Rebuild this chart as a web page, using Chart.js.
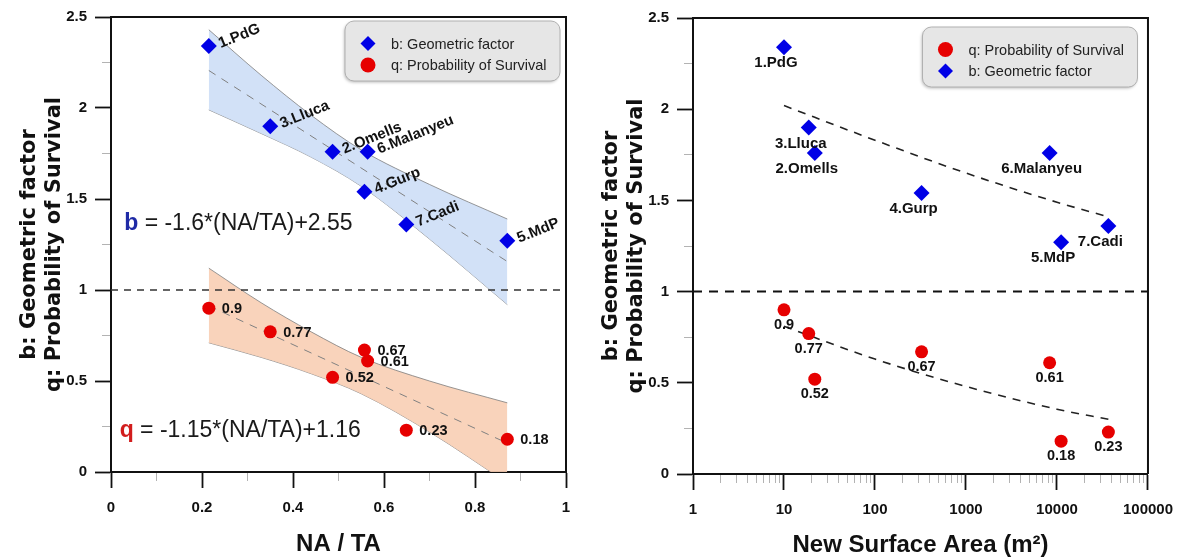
<!DOCTYPE html>
<html>
<head>
<meta charset="utf-8">
<title>Geometric factor and probability of survival</title>
<script src="https://cdn.jsdelivr.net/npm/chart.js@4.4.1/dist/chart.umd.min.js"></script>
<style>
  html, body { margin: 0; padding: 0; background: #fff; }
  #wrap { position: relative; width: 1184px; height: 560px; }
  canvas { position: absolute; top: 0; }
  #ratio-chart { left: 0; }
  #area-chart { left: 592px; }
</style>
</head>
<body>
<div id="wrap">
  <canvas id="ratio-chart" width="592" height="560"></canvas>
  <canvas id="area-chart" width="592" height="560"></canvas>
</div>
<script>
// sites, in numbering order
const sites = ['1.PdG', '2.Omells', '3.Lluca', '4.Gurp', '5.MdP', '6.Malanyeu', '7.Cadi'];
const naTa = [0.215, 0.487, 0.35, 0.557, 0.871, 0.564, 0.649];
const newArea = [10, 21.8, 18.7, 325, 11100, 8300, 36700];
const bFactor = [2.34, 1.76, 1.90, 1.54, 1.27, 1.76, 1.36];
const qSurvival = [0.90, 0.52, 0.77, 0.67, 0.18, 0.61, 0.23];

// linear fits against NA/TA
const bFit = { slope: -1.6, intercept: 2.55 };
const qFit = { slope: -1.15, intercept: 1.16 };
const fitRange = [0.215, 0.871];

// confidence bands round the fits
const bandX = [0.215, 0.33, 0.44, 0.55, 0.70, 0.871];
const bBandUpper = [2.43, 2.18, 1.96, 1.77, 1.58, 1.39];
const bBandLower = [1.99, 1.86, 1.73, 1.57, 1.28, 0.92];
const qBandUpper = [1.12, 0.93, 0.77, 0.63, 0.50, 0.38];
const qBandLower = [0.71, 0.63, 0.54, 0.43, 0.22, -0.06];

// trend curves against new surface area
const trendArea = [10, 100, 1000, 10000, 36700];
const bTrend = [2.02, 1.83, 1.65, 1.49, 1.41];
const qTrend = [0.81, 0.63, 0.48, 0.355, 0.30];

// labelled ticks
const yMajor = [0, 0.5, 1, 1.5, 2, 2.5];
const ratioMajor = [0, 0.2, 0.4, 0.6, 0.8, 1];
const areaMajor = [1, 10, 100, 1000, 10000, 100000];

const BLUE = '#0000e6';
const RED = '#e60000';
const SANS = '"Liberation Sans", Arial, sans-serif';

Chart.defaults.font.family = SANS;
Chart.defaults.color = '#111';

const xy = (xs, ys) => xs.map((x, i) => ({ x: x, y: ys[i] }));

// major ticks plus one minor tick between each pair
function linearTicks(major) {
  const out = [];
  major.forEach((v, i) => {
    out.push({ value: v, major: true });
    if (i < major.length - 1) out.push({ value: (v + major[i + 1]) / 2, major: false });
  });
  return out;
}

// decades plus 2..9 minor ticks
function logTicks(major) {
  const out = [];
  major.forEach((v, i) => {
    out.push({ value: v, major: true });
    if (i < major.length - 1) {
      for (let m = 2; m <= 9; m++) out.push({ value: v * m, major: false });
    }
  });
  return out;
}

// minor ticks are short: dash pattern keeps only the part next to the axis.
// bottom axis ticks are stroked from the axis out, left axis ticks from the outer end in.
const tickGrid = (minorDash) => ({
  drawOnChartArea: false,
  tickLength: 16,
  tickColor: c => (c.tick && c.tick.major ? '#111' : '#b3b3b3'),
  tickWidth: c => (c.tick && c.tick.major ? 1.8 : 1),
  tickBorderDash: c => (c.tick && c.tick.major ? [] : minorDash)
});
const xGrid = tickGrid([8, 60]);
const yGrid = tickGrid([0, 7, 9, 60]);

const tickFont = { family: SANS, weight: 'bold', size: 15 };
const majorLabel = (v, i, ticks) => (ticks[i].major ? String(v) : '');

const yTitle = (padTop) => ({
  display: true,
  text: ['b: Geometric factor', 'q: Probability of Survival'],
  font: { family: '"DejaVu Sans", sans-serif', weight: 'bold', size: 21, lineHeight: '25px' },
  padding: { top: padTop, bottom: 0 },
  color: '#111'
});

function diamondOrDot(ctx, style, x, y, r, color) {
  ctx.fillStyle = color;
  ctx.beginPath();
  if (style === 'rectRot') {
    ctx.moveTo(x, y - r);
    ctx.lineTo(x + r, y);
    ctx.lineTo(x, y + r);
    ctx.lineTo(x - r, y);
    ctx.closePath();
  } else {
    ctx.arc(x, y, r, 0, Math.PI * 2);
  }
  ctx.fill();
}

// top and right edges of the plot box
const frame = {
  id: 'frame',
  afterDraw(chart) {
    const { ctx, chartArea: a } = chart;
    ctx.save();
    ctx.strokeStyle = '#111';
    ctx.lineWidth = 2;
    ctx.beginPath();
    ctx.moveTo(a.left, a.top);
    ctx.lineTo(a.right, a.top);
    ctx.lineTo(a.right, a.bottom);
    ctx.stroke();
    ctx.restore();
  }
};

// site names / values next to the markers
const pointText = {
  id: 'pointText',
  afterDatasetsDraw(chart) {
    const { ctx } = chart;
    chart.data.datasets.forEach((ds, i) => {
      const lab = ds.pointLabels;
      if (!lab) return;
      const pts = chart.getDatasetMeta(i).data;
      ctx.save();
      ctx.fillStyle = '#111';
      ctx.font = 'bold ' + lab.size + 'px ' + SANS;
      ctx.textAlign = lab.align;
      ctx.textBaseline = lab.baseline;
      pts.forEach((p, j) => {
        ctx.save();
        ctx.translate(p.x + lab.dx, p.y + lab.dy);
        ctx.rotate((lab.angle || 0) * Math.PI / 180);
        ctx.fillText(lab.texts[j], 0, 0);
        ctx.restore();
      });
      ctx.restore();
    });
  }
};

// grey rounded legend box inside the plot
const insetLegend = {
  id: 'insetLegend',
  afterDatasetsDraw(chart, args, opts) {
    if (!opts.items) return;
    const { ctx, chartArea: a } = chart;
    const w = 215, h = 60;
    const x = a.right - opts.right - w;
    const y = a.top + opts.top;
    ctx.save();
    ctx.shadowColor = 'rgba(0,0,0,0.25)';
    ctx.shadowBlur = 3;
    ctx.shadowOffsetX = -1;
    ctx.shadowOffsetY = 1.5;
    ctx.beginPath();
    ctx.roundRect(x, y, w, h, 9);
    ctx.fillStyle = '#e6e6e6';
    ctx.fill();
    ctx.shadowColor = 'transparent';
    ctx.strokeStyle = '#b0b0b0';
    ctx.lineWidth = 1;
    ctx.stroke();
    ctx.font = '14.5px ' + SANS;
    ctx.textBaseline = 'middle';
    opts.items.forEach((di, k) => {
      const ds = chart.data.datasets[di];
      const cy = y + 22.5 + k * 21.5;
      diamondOrDot(ctx, ds.pointStyle, x + 23, cy, 7.5, ds.pointBackgroundColor);
      ctx.fillStyle = '#222';
      ctx.fillText(ds.label, x + 46, cy + 1);
    });
    ctx.restore();
  }
};

// fitted equations written on the plot
const fitNotes = {
  id: 'fitNotes',
  afterDatasetsDraw(chart, args, opts) {
    if (!opts.notes) return;
    const { ctx, scales } = chart;
    ctx.save();
    ctx.textBaseline = 'alphabetic';
    opts.notes.forEach(n => {
      const px = scales.x.getPixelForValue(n.atX);
      const py = scales.y.getPixelForValue(n.atY);
      ctx.font = 'bold 23px ' + SANS;
      ctx.fillStyle = n.color;
      ctx.fillText(n.key, px, py);
      const kw = ctx.measureText(n.key).width;
      ctx.font = '23px ' + SANS;
      ctx.fillStyle = '#1a1a1a';
      ctx.fillText(' = ' + n.slope + '*(NA/TA)+' + n.intercept, px + kw, py);
    });
    ctx.restore();
  }
};

const fitLine = f => fitRange.map(x => ({ x: x, y: f.slope * x + f.intercept }));

const bandEdge = (ys, fill, color) => ({
  data: xy(bandX, ys),
  borderColor: '#7d7d7d',
  borderWidth: 0.8,
  pointRadius: 0,
  cubicInterpolationMode: 'monotone',
  fill: fill,
  backgroundColor: color
});

// left: b and q against NA/TA
new Chart(document.getElementById('ratio-chart'), {
  type: 'line',
  data: {
    datasets: [
      {
        label: 'b: Geometric factor',
        data: xy(naTa, bFactor),
        showLine: false,
        pointStyle: 'rectRot',
        pointRadius: 8,
        pointBackgroundColor: BLUE,
        pointBorderWidth: 0,
        pointLabels: { texts: sites, dx: 12, dy: 2, angle: -22, align: 'left', baseline: 'alphabetic', size: 15 }
      },
      {
        label: 'q: Probability of Survival',
        data: xy(naTa, qSurvival),
        showLine: false,
        pointStyle: 'circle',
        pointRadius: 6.5,
        pointBackgroundColor: RED,
        pointBorderWidth: 0,
        pointLabels: { texts: qSurvival.map(String), dx: 13, dy: 1, align: 'left', baseline: 'middle', size: 14.5 }
      },
      { data: fitLine(bFit), borderColor: '#808080', borderWidth: 1, borderDash: [8, 7], pointRadius: 0 },
      { data: fitLine(qFit), borderColor: '#808080', borderWidth: 1, borderDash: [8, 7], pointRadius: 0 },
      { data: [{ x: 0, y: 1 }, { x: 1, y: 1 }], borderColor: '#333', borderWidth: 1.3, borderDash: [7, 6], pointRadius: 0 },
      bandEdge(bBandUpper, '+1', 'rgba(205, 222, 246, 0.9)'),
      bandEdge(bBandLower, false),
      bandEdge(qBandUpper, '+1', 'rgba(248, 206, 180, 0.9)'),
      bandEdge(qBandLower, false)
    ]
  },
  options: {
    responsive: false,
    animation: false,
    events: [],
    layout: { padding: { top: 16, right: 26, bottom: 0, left: 0 } },
    scales: {
      x: {
        type: 'linear',
        min: 0,
        max: 1,
        afterFit: s => { s.height = 88; },
        afterBuildTicks: s => { s.ticks = linearTicks(ratioMajor); },
        grid: xGrid,
        border: { color: '#111', width: 2 },
        ticks: { autoSkip: false, maxRotation: 0, padding: 11, font: tickFont, color: '#111', callback: majorLabel },
        title: { display: true, text: 'NA / TA', font: { family: SANS, weight: 'bold', size: 24 }, padding: { top: 0, bottom: 1 }, color: '#111' }
      },
      y: {
        min: 0,
        max: 2.5,
        afterFit: s => { s.width = 111; },
        afterBuildTicks: s => { s.ticks = linearTicks(yMajor); },
        grid: yGrid,
        border: { color: '#111', width: 2 },
        ticks: { autoSkip: false, padding: 8, font: tickFont, color: '#111', callback: majorLabel },
        title: yTitle(17)
      }
    },
    plugins: {
      legend: { display: false },
      tooltip: { enabled: false },
      insetLegend: { items: [0, 1], right: 6, top: 4 },
      fitNotes: {
        notes: [
          { key: 'b', color: '#1f2aa6', slope: bFit.slope, intercept: bFit.intercept, atX: 0.029, atY: 1.327 },
          { key: 'q', color: '#d21d1d', slope: qFit.slope, intercept: qFit.intercept, atX: 0.019, atY: 0.19 }
        ]
      }
    }
  },
  plugins: [pointText, insetLegend, fitNotes, frame]
});

// right: q and b against new surface area (log scale)
new Chart(document.getElementById('area-chart'), {
  type: 'line',
  data: {
    datasets: [
      {
        label: 'q: Probability of Survival',
        data: xy(newArea, qSurvival),
        showLine: false,
        pointStyle: 'circle',
        pointRadius: 6.5,
        pointBackgroundColor: RED,
        pointBorderWidth: 0,
        pointLabels: { texts: qSurvival.map(String), dx: 0, dy: 15, align: 'center', baseline: 'middle', size: 14.5 }
      },
      {
        label: 'b: Geometric factor',
        data: xy(newArea, bFactor),
        showLine: false,
        pointStyle: 'rectRot',
        pointRadius: 8,
        pointBackgroundColor: BLUE,
        pointBorderWidth: 0,
        pointLabels: { texts: sites, dx: -8, dy: 16, align: 'center', baseline: 'middle', size: 15 }
      },
      { data: xy(trendArea, bTrend), borderColor: '#222', borderWidth: 1.6, borderDash: [8, 7], pointRadius: 0, cubicInterpolationMode: 'monotone' },
      { data: xy(trendArea, qTrend), borderColor: '#222', borderWidth: 1.6, borderDash: [8, 7], pointRadius: 0, cubicInterpolationMode: 'monotone' },
      { data: [{ x: 1, y: 1 }, { x: 100000, y: 1 }], borderColor: '#111', borderWidth: 2, borderDash: [9, 7], pointRadius: 0 }
    ]
  },
  options: {
    responsive: false,
    animation: false,
    events: [],
    layout: { padding: { top: 18, right: 35.5, bottom: 0, left: 0 } },
    scales: {
      x: {
        type: 'logarithmic',
        min: 1,
        max: 100000,
        afterFit: s => { s.height = 86; },
        afterBuildTicks: s => { s.ticks = logTicks(areaMajor); },
        grid: xGrid,
        border: { color: '#111', width: 2 },
        ticks: { autoSkip: false, maxRotation: 0, padding: 11, font: tickFont, color: '#111', callback: majorLabel },
        title: { display: true, text: 'New Surface Area (m²)', font: { family: SANS, weight: 'bold', size: 24 }, padding: { top: 0, bottom: 0 }, color: '#111' }
      },
      y: {
        min: 0,
        max: 2.5,
        afterFit: s => { s.width = 101; },
        afterBuildTicks: s => { s.ticks = linearTicks(yMajor); },
        grid: yGrid,
        border: { color: '#111', width: 2 },
        ticks: { autoSkip: false, padding: 8, font: tickFont, color: '#111', callback: majorLabel },
        title: yTitle(7)
      }
    },
    plugins: {
      legend: { display: false },
      tooltip: { enabled: false },
      insetLegend: { items: [0, 1], right: 10.5, top: 9 }
    }
  },
  plugins: [pointText, insetLegend, frame]
});
</script>
</body>
</html>
